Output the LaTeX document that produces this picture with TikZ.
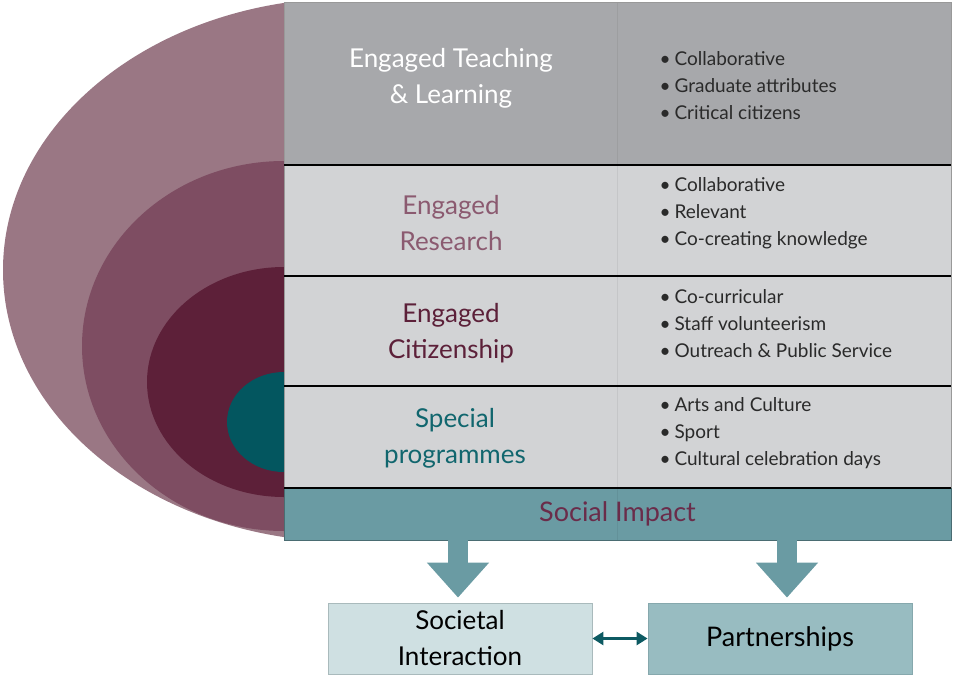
\documentclass[tikz,border=0pt]{standalone}
\usepackage{fontspec}
\setmainfont{Lato}
\usetikzlibrary{arrows.meta}

\definecolor{ringA}{HTML}{9A7784}
\definecolor{ringB}{HTML}{7E4D62}
\definecolor{ringC}{HTML}{5D2039}
\definecolor{core}{HTML}{03565F}
\definecolor{rowdark}{HTML}{A7A8AB}
\definecolor{rowlight}{HTML}{D2D3D5}
\definecolor{impact}{HTML}{6A9BA3}
\definecolor{boxA}{HTML}{CFE0E2}
\definecolor{boxAedge}{HTML}{A9BABC}
\definecolor{boxB}{HTML}{98BCC1}
\definecolor{boxBedge}{HTML}{86A8AD}
\definecolor{dteal}{HTML}{0D5A62}
\definecolor{research}{HTML}{8B5A70}
\definecolor{citizen}{HTML}{5C2039}
\definecolor{special}{HTML}{11666E}
\definecolor{impacttext}{HTML}{6A2C4A}
\definecolor{bullettext}{HTML}{2A2A2A}

\begin{document}
\begin{tikzpicture}[x=1pt,y=-1pt,
  rowbox/.style={anchor=north west, minimum width=667pt, inner sep=0pt, outer sep=0pt},
  rowlabel/.style={align=center, font=\fontsize{26}{36}\selectfont},
  blist/.style={anchor=west, align=left, text=bullettext, font=\fontsize{19}{27}\selectfont},
  outcome/.style={draw, line width=0.8pt, minimum width=264pt, minimum height=71pt,
    align=center, font=\fontsize{26}{36}\selectfont},
  blockarrow/.style={impact, line width=20pt, -{Triangle[width=60pt,length=35pt]}},
  twoway/.style={dteal, line width=2.5pt,
    {Triangle[length=11pt,width=13pt]}-{Triangle[length=11pt,width=13pt]}},
  sep/.style={black, line width=2pt}
]
\useasboundingbox (0,0) rectangle (953,675);

% nested half-ellipses on the left
\begin{scope}
  \clip (0,0) rectangle (286,675);
  \fill[ringA] (350,270) ellipse [x radius=347pt, y radius=272pt];
  \fill[ringB] (284,346) ellipse [x radius=202pt, y radius=185pt];
  \fill[ringC] (284,382) ellipse [x radius=137pt, y radius=115pt];
  \fill[core]  (284,422) ellipse [x radius=57pt, y radius=50pt];
\end{scope}

% rows of the table
\node[rowbox, fill=rowdark,  minimum height=163pt] (r1) at (284,2) {};
\node[rowbox, fill=rowlight, minimum height=111pt] (r2) at (284,165) {};
\node[rowbox, fill=rowlight, minimum height=110pt] (r3) at (284,276) {};
\node[rowbox, fill=rowlight, minimum height=102pt] (r4) at (284,386) {};
\node[rowbox, fill=impact,   minimum height=52pt, draw=impact!70!black, line width=0.8pt] (band) at (284,488) {};

% faint column divider and outer edge
\draw[black, opacity=0.06, line width=0.6pt] (617,2) -- (617,540);
\draw[black!40, line width=0.6pt] (r1.north west) -- (r1.north east) -- (r4.south east);
\draw[black!40, line width=0.6pt] (r1.north west) -- (r4.south west);

% separators
\draw[sep] (r1.south west) -- (r1.south east);
\draw[sep] (r2.south west) -- (r2.south east);
\draw[sep] (r3.south west) -- (r3.south east);
\draw[sep] (r4.south west) -- (r4.south east);

% row labels
\node[rowlabel, text=white]    (l1) at (451,78)  {Engaged Teaching\\\& Learning};
\node[rowlabel, text=research] (l2) at (451,223) {Engaged\\Research};
\node[rowlabel, text=citizen]  (l3) at (451,333) {Engaged\\Citizenship};
\node[rowlabel, text=special]  (l4) at (455,438) {Special\\programmes};

% bullet lists
\node[blist] (b1) at (656,86)  {\textbullet\hspace{4pt}Collaborative\\\textbullet\hspace{4pt}Graduate attributes\\\textbullet\hspace{4pt}Critical citizens};
\node[blist] (b2) at (656,213) {\textbullet\hspace{4pt}Collaborative\\\textbullet\hspace{4pt}Relevant\\\textbullet\hspace{4pt}Co-creating knowledge};
\node[blist] (b3) at (656,324) {\textbullet\hspace{4pt}Co-curricular\\\textbullet\hspace{4pt}Staff volunteerism\\\textbullet\hspace{4pt}Outreach \& Public Service};
\node[blist] (b4) at (656,433) {\textbullet\hspace{4pt}Arts and Culture\\\textbullet\hspace{4pt}Sport\\\textbullet\hspace{4pt}Cultural celebration days};

\node[text=impacttext, font=\fontsize{27}{32}\selectfont] (si-label) at (band.center) {Social Impact};

% outcome boxes
\node[outcome, fill=boxA, draw=boxAedge] (soc) at (460,638.5) {Societal\\Interaction};
\node[outcome, fill=boxB, draw=boxBedge, font=\fontsize{27}{32}\selectfont] (par) at (780,638.5) {Partnerships};

% arrows
\draw[blockarrow] ([xshift=-2pt]soc.north |- band.south) -- ([xshift=-2pt,yshift=5pt]soc.north);
\draw[blockarrow] ([xshift=7pt]par.north |- band.south) -- ([xshift=7pt,yshift=5pt]par.north);
\draw[twoway] (soc.east) -- (par.west);
\end{tikzpicture}
\end{document}
